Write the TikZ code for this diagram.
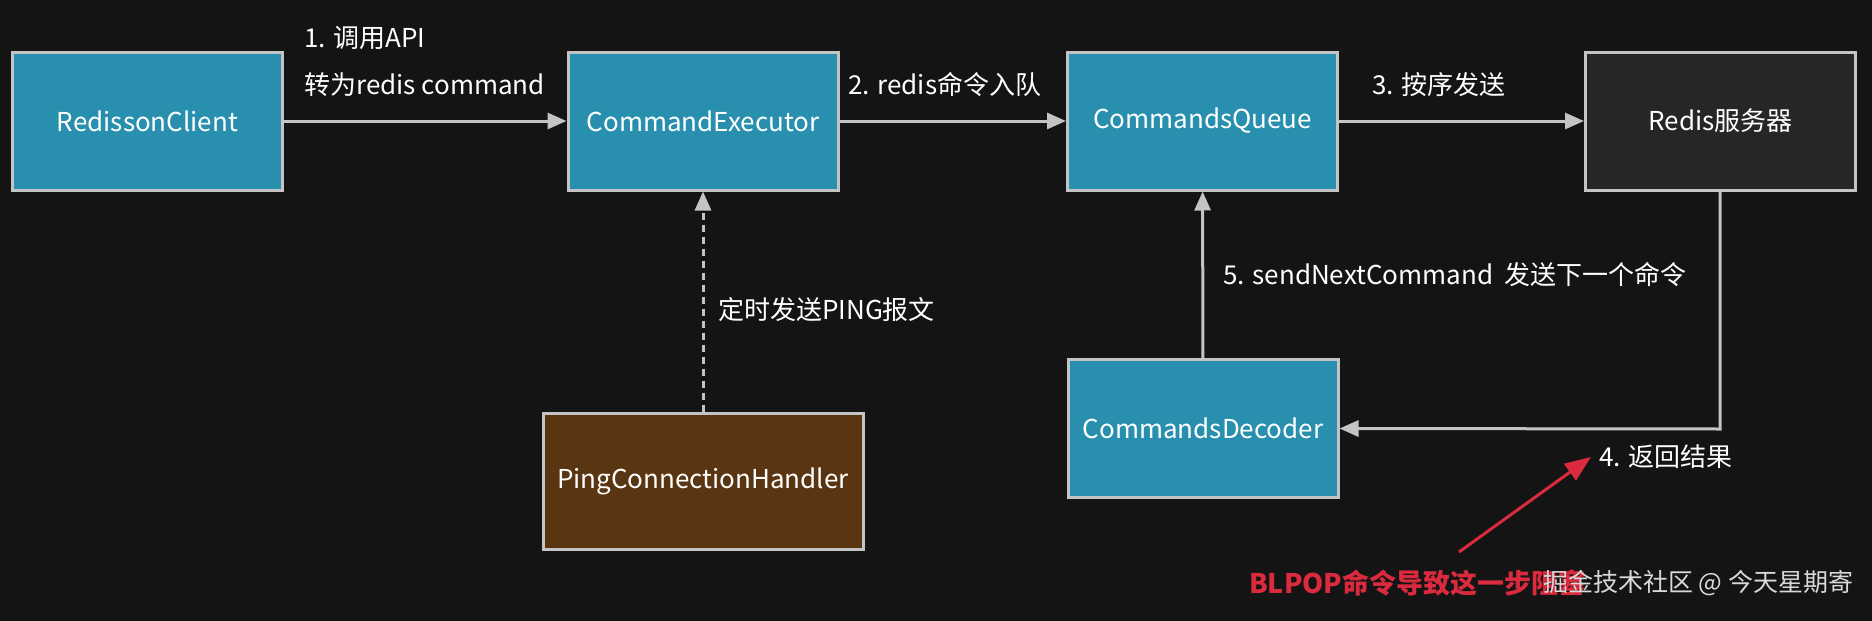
\documentclass[tikz,border=0pt]{standalone}
\usepackage{fontspec}
\setmainfont{Noto Sans CJK SC}
\usepackage{xcolor}
\usetikzlibrary{arrows.meta}
\definecolor{bg}{HTML}{141414}
\definecolor{teal}{HTML}{2890AE}
\definecolor{brownbox}{HTML}{5A3512}
\definecolor{darkbox}{HTML}{262626}
\definecolor{edge}{HTML}{C4C4C4}
\definecolor{alert}{HTML}{DA2A3E}
\tikzstyle{box} = [rectangle, minimum width=270pt, minimum height=138pt, text centered, draw=edge, line width=3pt, fill=teal, text=white, font=\fontsize{26}{30}\selectfont]
\tikzstyle{arrow} = [draw=edge, line width=3pt, -{Triangle[length=19pt,width=16pt]}]
\tikzstyle{lbl} = [anchor=west, text=white, inner sep=0pt, font=\fontsize{26}{30}\selectfont]

\begin{document}
\begin{tikzpicture}[x=1pt, y=-1pt]
\fill[bg] (0,0) rectangle (1872,621);
\useasboundingbox (0,0) rectangle (1872,621);

% Boxes
\node (client) [box] at (147.5,121) {RedissonClient};  % top row
\node (executor) [box] at (703,121) {CommandExecutor};
\node (queue) [box] at (1202.5,121) {CommandsQueue};
\node (server) [box, fill=darkbox] at (1720.5,121) {Redis服务器};
\node (ping) [box, fill=brownbox, minimum width=320pt, minimum height=136pt] at (703,481) {PingConnectionHandler}; % bottom row
\node (decoder) [box] at (1203,428.5) {CommandsDecoder};

% Labels
\node (l1) [lbl] at (304,38) {1. 调用API};
\node (l1b) [lbl] at (304,85) {转为redis command};
\node (l2) [lbl] at (848,85) {2. redis命令入队};
\node (l3) [lbl] at (1372,85) {3. 按序发送};
\node (l4) [lbl] at (1599,457) {4. 返回结果};
\node (l5) [lbl] at (1223,275) {5. sendNextCommand\ \ 发送下一个命令};
\node (lping) [lbl] at (718,310) {定时发送PING报文};
\node (note) [lbl, text=alert, font=\fontsize{27}{31}\selectfont\bfseries] at (1249,583) {BLPOP命令导致这一步阻塞};
\node (mark) [lbl, text=white!85!black, font=\fontsize{25}{29}\selectfont] at (1543,583) {掘金技术社区 @ 今天星期寄};
\coordinate (corner) at (1720,429);
\coordinate (tail) at (1459,552);

% Arrows
\draw [arrow] (client) -- (executor);
\draw [arrow] (executor) -- (queue);
\draw [arrow] (queue) -- (server);
\draw [arrow] (server.south -| corner) -- (corner) -- (decoder.east);
\draw [arrow] (decoder) -- (queue);
\draw [arrow, dash pattern=on 7pt off 5pt] (ping) -- (executor);
\draw [arrow, draw=alert, fill=alert, -{Triangle[length=26pt,width=20pt]}] (tail) -- ([xshift=-8pt]l4.west);

\end{tikzpicture}
\end{document}
